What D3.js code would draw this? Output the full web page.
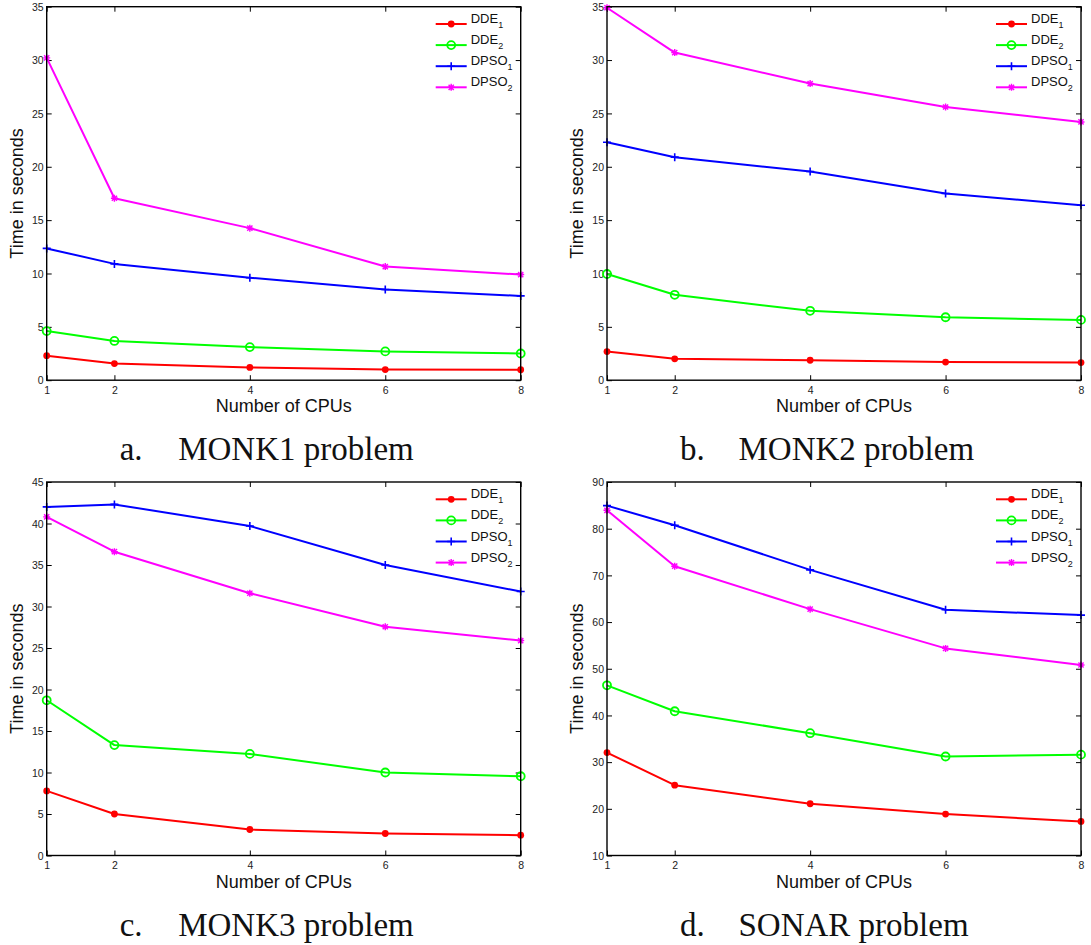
<!DOCTYPE html>
<html>
<head>
<meta charset="utf-8">
<script src="https://cdn.jsdelivr.net/npm/d3@7"></script>
<style>
  body { margin: 0; background: #fff; }
  svg text { font-family: Arial, "Liberation Sans", sans-serif; }
  svg text.caption { font-family: "Liberation Serif", "DejaVu Serif", serif; }
</style>
</head>
<body>
<div id="chart"></div>
<script>
// x values shared by all four panels
const cpus = [1, 2, 4, 6, 8];

const seriesBase = ["DDE", "DDE", "DPSO", "DPSO"];
const seriesSub = ["1", "2", "1", "2"];

// a. MONK1
const monk1DDE1 = [2.3, 1.56, 1.2, 1.0, 0.98];
const monk1DDE2 = [4.6, 3.68, 3.1, 2.7, 2.5];
const monk1DPSO1 = [12.35, 10.9, 9.6, 8.5, 7.9];
const monk1DPSO2 = [30.2, 17.05, 14.25, 10.65, 9.9];

// b. MONK2
const monk2DDE1 = [2.68, 2.0, 1.87, 1.7, 1.65];
const monk2DDE2 = [9.95, 8.0, 6.5, 5.9, 5.65];
const monk2DPSO1 = [22.3, 20.9, 19.55, 17.5, 16.4];
const monk2DPSO2 = [34.9, 30.7, 27.8, 25.6, 24.2];

// c. MONK3
const monk3DDE1 = [7.78, 5.0, 3.13, 2.65, 2.45];
const monk3DDE2 = [18.7, 13.3, 12.24, 10.0, 9.55];
const monk3DPSO1 = [42.0, 42.3, 39.7, 35.0, 31.8];
const monk3DPSO2 = [40.8, 36.6, 31.6, 27.56, 25.9];

// d. SONAR
const sonarDDE1 = [32.05, 25.07, 21.08, 18.87, 17.3];
const sonarDDE2 = [46.45, 40.9, 36.2, 31.2, 31.6];
const sonarDPSO1 = [84.94, 80.73, 71.18, 62.63, 61.49];
const sonarDPSO2 = [83.94, 71.97, 62.77, 54.36, 50.8];

// y axis ticks per panel
const ticksMonk1 = [0, 5, 10, 15, 20, 25, 30, 35];
const ticksMonk2 = [0, 5, 10, 15, 20, 25, 30, 35];
const ticksMonk3 = [0, 5, 10, 15, 20, 25, 30, 35, 40, 45];
const ticksSonar = [10, 20, 30, 40, 50, 60, 70, 80, 90];

const captionLetters = ["a.", "b.", "c.", "d."];
const captionTitles = ["MONK1 problem", "MONK2 problem", "MONK3 problem", "SONAR problem"];

const colors = ["#ff0000", "#00ff00", "#0000ff", "#ff00ff"];
const markers = ["dot", "circle", "plus", "star"];

const width = 1091;
const height = 945;

const svg = d3.select("#chart").append("svg")
    .attr("width", width)
    .attr("height", height);

const panels = [
    { left: 46.7, top: 6.7, series: [monk1DDE1, monk1DDE2, monk1DPSO1, monk1DPSO2], ticks: ticksMonk1 },
    { left: 607, top: 6.7, series: [monk2DDE1, monk2DDE2, monk2DPSO1, monk2DPSO2], ticks: ticksMonk2 },
    { left: 46.7, top: 482, series: [monk3DDE1, monk3DDE2, monk3DPSO1, monk3DPSO2], ticks: ticksMonk3 },
    { left: 607, top: 482, series: [sonarDDE1, sonarDDE2, sonarDPSO1, sonarDPSO2], ticks: ticksSonar }
];

const plotW = 474;
const plotH = 373.5;

panels.forEach((p, i) => drawPanel(p, i));

function drawMarker(g, type, color) {
    if (type === "dot") {
        g.append("circle").attr("r", 3.4).attr("fill", color);
    } else if (type === "circle") {
        g.append("circle").attr("r", 4).attr("fill", "none")
            .attr("stroke", color).attr("stroke-width", 1.8);
    } else if (type === "plus") {
        g.append("path").attr("d", "M-4,0H4M0,-4V4")
            .attr("stroke", color).attr("stroke-width", 1.6);
    } else {
        g.append("path").attr("d", "M-3.5,0H3.5M0,-3.5V3.5M-2.6,-2.6L2.6,2.6M-2.6,2.6L2.6,-2.6")
            .attr("stroke", color).attr("stroke-width", 1.4);
    }
}

function drawPanel(p, i) {
    const g = svg.append("g").attr("transform", `translate(${p.left},${p.top})`);

    const x = d3.scaleLinear().domain([1, 8]).range([0, plotW]);
    const y = d3.scaleLinear().domain(d3.extent(p.ticks)).range([plotH, 0]);

    // axes with inward ticks, like matlab box
    const bottom = g.append("g").attr("transform", `translate(0,${plotH})`)
        .call(d3.axisBottom(x).tickValues(cpus).tickSize(-5).tickPadding(4).tickFormat(d3.format("d")));
    g.append("g")
        .call(d3.axisTop(x).tickValues(cpus).tickSize(-5).tickFormat(""));
    const left = g.append("g")
        .call(d3.axisLeft(y).tickValues(p.ticks).tickSize(-5).tickPadding(3).tickFormat(d3.format("d")));
    g.append("g").attr("transform", `translate(${plotW},0)`)
        .call(d3.axisRight(y).tickValues(p.ticks).tickSize(-5).tickFormat(""));

    g.selectAll(".domain").remove();
    g.selectAll(".tick line").attr("stroke", "#000").attr("stroke-width", 1);
    g.selectAll(".tick text").attr("font-size", 10.5).attr("fill", "#222");
    bottom.selectAll(".tick text").attr("dy", "0.9em");
    left.selectAll(".tick text").attr("dy", "0.35em");

    const line = d3.line()
        .x((d, k) => x(cpus[k]))
        .y(d => y(d));

    p.series.forEach((vals, s) => {
        g.append("path")
            .datum(vals)
            .attr("fill", "none")
            .attr("stroke", colors[s])
            .attr("stroke-width", 2)
            .attr("stroke-linejoin", "round")
            .attr("d", line);
        vals.forEach((v, k) => {
            const m = g.append("g").attr("transform", `translate(${x(cpus[k])},${y(v)})`);
            drawMarker(m, markers[s], colors[s]);
        });
    });

    g.append("rect")
        .attr("width", plotW)
        .attr("height", plotH)
        .attr("fill", "none")
        .attr("stroke", "#000")
        .attr("stroke-width", 1.4);

    // legend
    const lg = g.append("g").attr("transform", `translate(${plotW - 85},17.3)`);
    seriesBase.forEach((name, s) => {
        const row = lg.append("g").attr("transform", `translate(0,${s * 21.1})`);
        row.append("line").attr("x1", 0).attr("x2", 31)
            .attr("stroke", colors[s]).attr("stroke-width", 2);
        const m = row.append("g").attr("transform", "translate(15.5,0)");
        drawMarker(m, markers[s], colors[s]);
        const t = row.append("text").attr("x", 35).attr("y", -1)
            .attr("font-size", 13).attr("fill", "#111");
        t.append("tspan").text(name);
        t.append("tspan").attr("font-size", 9).attr("dy", 5).text(seriesSub[s]);
    });

    // axis labels
    g.append("text")
        .attr("x", plotW / 2)
        .attr("y", plotH + 32)
        .attr("text-anchor", "middle")
        .attr("font-size", 18)
        .attr("fill", "#111")
        .text("Number of CPUs");

    g.append("text")
        .attr("transform", `translate(-24,${plotH / 2}) rotate(-90)`)
        .attr("text-anchor", "middle")
        .attr("font-size", 18)
        .attr("fill", "#111")
        .text("Time in seconds");

    // caption under each panel
    const cap = g.append("g").attr("transform", `translate(0,${plotH + 80})`);
    cap.append("text").attr("class", "caption")
        .attr("x", 73).attr("font-size", 33).attr("fill", "#111")
        .text(captionLetters[i]);
    cap.append("text").attr("class", "caption")
        .attr("x", 131.5).attr("font-size", 33).attr("fill", "#111")
        .text(captionTitles[i]);
}
</script>
</body>
</html>
